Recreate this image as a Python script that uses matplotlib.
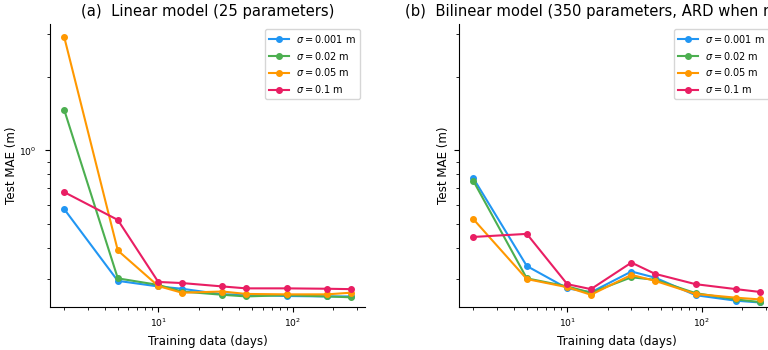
import matplotlib
matplotlib.use("Agg")
import matplotlib.pyplot as plt

# training set sizes (days) and test MAE (m) per noise level
days = [2, 5, 10, 15, 30, 45, 90, 180, 270]
sigmas = ["0.001", "0.02", "0.05", "0.1"]
colors = ["#2196F3", "#4CAF50", "#FF9800", "#E91E63"]

linear_mae = [
    [0.576, 0.294, 0.279, 0.273, 0.259, 0.258, 0.255, 0.254, 0.254],
    [1.46, 0.301, 0.283, 0.266, 0.258, 0.254, 0.257, 0.254, 0.252],
    [2.89, 0.391, 0.280, 0.263, 0.266, 0.260, 0.259, 0.259, 0.263],
    [0.676, 0.521, 0.291, 0.288, 0.279, 0.274, 0.274, 0.273, 0.272],
]
bilinear_mae = [
    [0.771, 0.338, 0.274, 0.264, 0.321, 0.303, 0.257, 0.244, 0.240],
    [0.752, 0.301, 0.279, 0.263, 0.304, 0.297, 0.262, 0.247, 0.241],
    [0.525, 0.299, 0.277, 0.258, 0.311, 0.294, 0.260, 0.251, 0.247],
    [0.444, 0.457, 0.285, 0.272, 0.349, 0.314, 0.285, 0.272, 0.265],
]

titles = [
    "(a)  Linear model (25 parameters)",
    "(b)  Bilinear model (350 parameters, ARD when n < 100)",
]

fig = plt.figure(figsize=(7.68, 3.5), dpi=100)
ax1 = fig.add_axes([50 / 768, 43 / 350, 315 / 768, 283 / 350])
ax2 = fig.add_axes([459 / 768, 43 / 350, 315 / 768, 283 / 350], sharey=ax1)

for ax, data, title in zip([ax1, ax2], [linear_mae, bilinear_mae], titles):
    for vals, s, c in zip(data, sigmas, colors):
        ax.plot(days, vals, marker="o", markersize=4, linewidth=1.5,
                color=c, label=rf"$\sigma = {s}$ m")
    ax.set_xscale("log")
    ax.set_yscale("log")
    ax.set_title(title, fontsize=10.6)
    ax.set_xlabel("Training data (days)", fontsize=8.6)
    ax.set_ylabel("Test MAE (m)", fontsize=8.6, labelpad=1)
    ax.tick_params(labelsize=6.6)
    ax.tick_params(axis="y", which="major", pad=6)
    ax.spines["top"].set_visible(False)
    ax.spines["right"].set_visible(False)
    ax.legend(loc="upper right", fontsize=7)

ax1.set_ylim(0.23, 3.28)
ax2.tick_params(labelleft=False)

fig.savefig("out.png", dpi=100)
